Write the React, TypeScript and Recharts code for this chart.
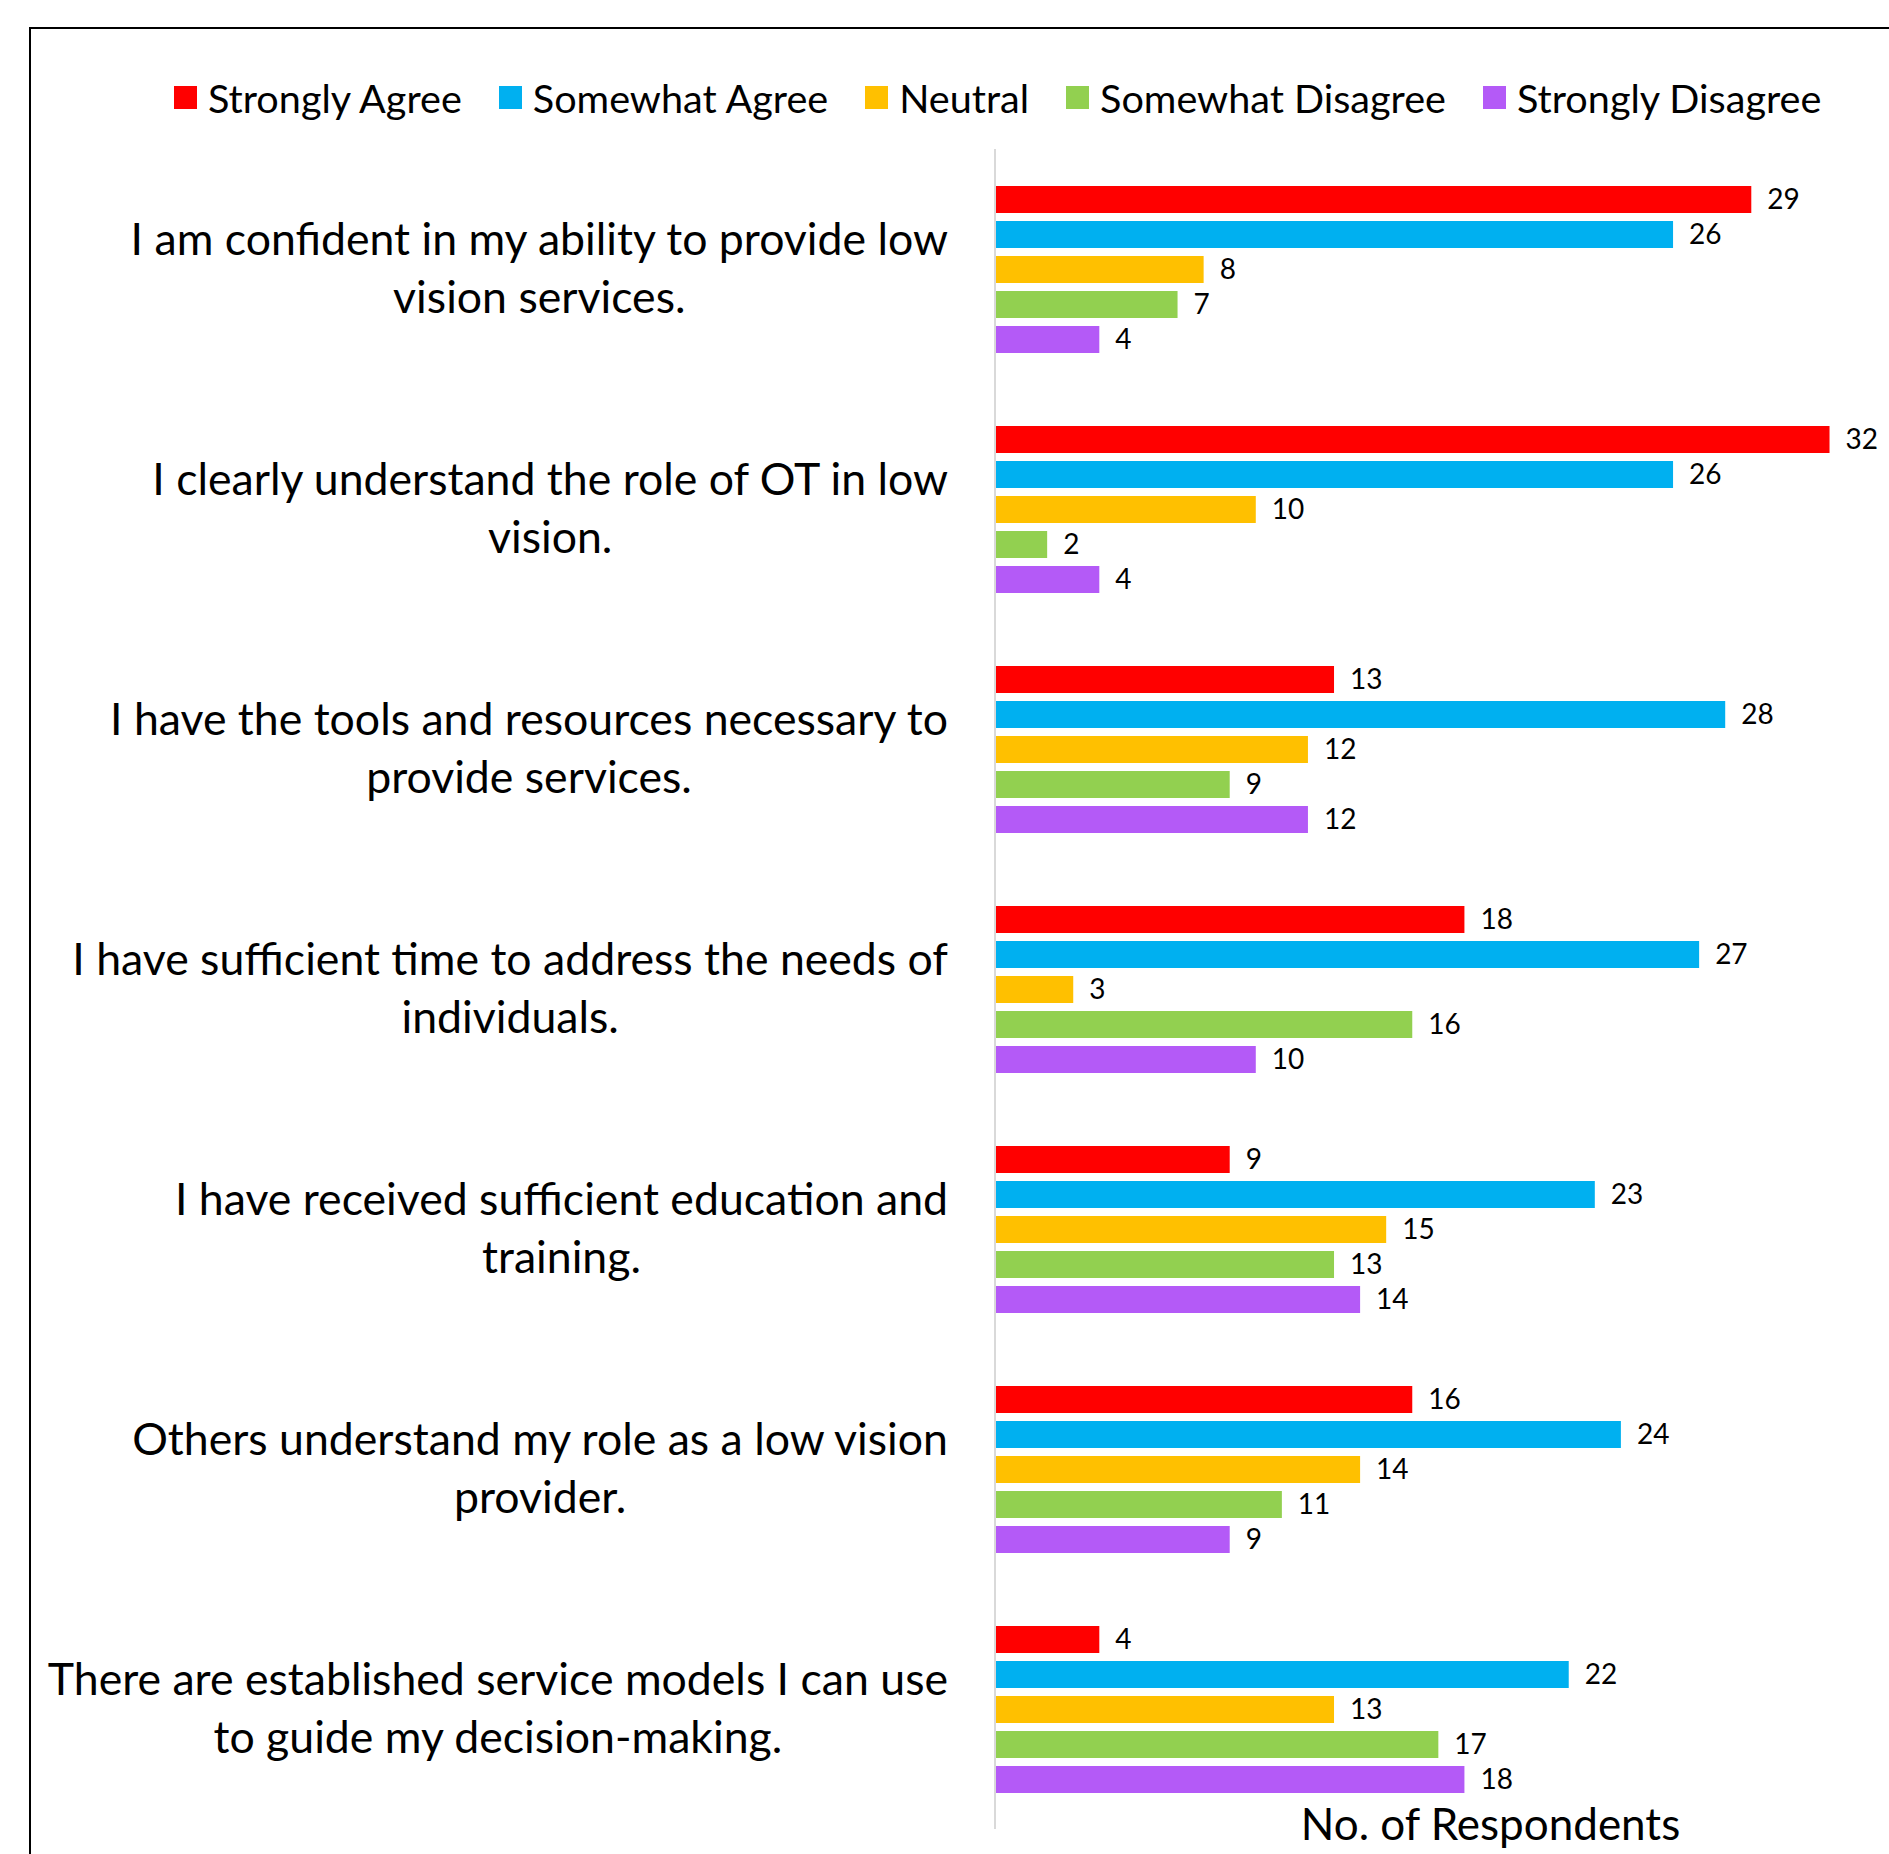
import React from "react";
import { BarChart, Bar, XAxis, YAxis, LabelList } from "recharts";

// survey statements (each \n is where the label wraps)
const statements = [
  "I am confident in my ability to provide low\nvision services.",
  "I clearly understand the role of OT in low\nvision.",
  "I have the tools and resources necessary to\nprovide services.",
  "I have sufficient time to address the needs of\nindividuals.",
  "I have received sufficient education and\ntraining.",
  "Others understand my role as a low vision\nprovider.",
  "There are established service models I can use\nto guide my decision-making.",
];

const stronglyAgree = [29, 32, 13, 18, 9, 16, 4];
const somewhatAgree = [26, 26, 28, 27, 23, 24, 22];
const neutral = [8, 10, 12, 3, 15, 14, 13];
const somewhatDisagree = [7, 2, 9, 16, 13, 11, 17];
const stronglyDisagree = [4, 4, 12, 10, 14, 9, 18];

const seriesNames = [
  "Strongly Agree",
  "Somewhat Agree",
  "Neutral",
  "Somewhat Disagree",
  "Strongly Disagree",
];
const seriesColors = ["#FF0000", "#00B0F0", "#FFC000", "#92D050", "#B45AF7"];
const seriesValues = [stronglyAgree, somewhatAgree, neutral, somewhatDisagree, stronglyDisagree];

const xMax = 38;
const FONT = "Lato, 'Open Sans', sans-serif";

const chartData = statements.map((s, i) => {
  const row: Record<string, string | number> = { statement: s };
  seriesNames.forEach((n, j) => {
    row[n] = seriesValues[j][i];
  });
  return row;
});

interface TickProps {
  x?: number;
  y?: number;
  payload?: { value: string };
}

const StatementTick = ({ x = 0, y = 0, payload }: TickProps) => {
  const lines = (payload?.value ?? "").split("\n");
  return (
    <foreignObject x={x - 47 - 940} y={y - 82} width={940} height={160}>
      <div
        style={{
          width: "100%",
          height: "100%",
          display: "flex",
          justifyContent: "flex-end",
          alignItems: "center",
        }}
      >
        <div
          style={{
            textAlign: "center",
            fontFamily: FONT,
            fontSize: 44.6,
            lineHeight: "58px",
            color: "#000",
            whiteSpace: "nowrap",
          }}
        >
          {lines.map((l, i) => (
            <div key={i}>{l}</div>
          ))}
        </div>
      </div>
    </foreignObject>
  );
};

const LegendRow = () => (
  <div
    style={{
      position: "absolute",
      left: 174,
      top: 73,
      height: 48,
      display: "flex",
      alignItems: "center",
      fontFamily: FONT,
      fontSize: 39.6,
      color: "#000",
      whiteSpace: "nowrap",
    }}
  >
    {seriesNames.map((n, i) => (
      <div key={n} style={{ display: "flex", alignItems: "center", marginRight: 37 }}>
        <span
          style={{ width: 23, height: 23, background: seriesColors[i], marginRight: 11, display: "inline-block" }}
        />
        <span>{n}</span>
      </div>
    ))}
  </div>
);

export default function App() {
  return (
    <div
      style={{
        position: "absolute",
        left: 0,
        top: 0,
        width: 1889,
        height: 1854,
        overflow: "hidden",
        background: "#fff",
      }}
    >
      {/* chart area frame, cropped on the right and bottom like the source */}
      <div
        style={{
          position: "absolute",
          left: 29,
          top: 27,
          width: 2100,
          height: 2000,
          border: "2px solid #000",
        }}
      />
      <LegendRow />
      <div style={{ position: "absolute", left: 0, top: 0 }}>
        <BarChart
          width={2040}
          height={1869}
          data={chartData}
          layout="vertical"
          margin={{ top: 149, right: 54, left: 0, bottom: 0 }}
          barSize={27}
          barGap={8}
        >
          <XAxis
            type="number"
            domain={[0, xMax]}
            height={40}
            tick={false}
            tickLine={false}
            axisLine={false}
            label={(props: any) => {
              const vb = props.viewBox || {};
              return (
                <text
                  x={vb.x + vb.width / 2}
                  y={vb.y + 11}
                  textAnchor="middle"
                  fontFamily={FONT}
                  fontSize={44}
                  fill="#000"
                >
                  No. of Respondents
                </text>
              );
            }}
          />
          <YAxis
            type="category"
            dataKey="statement"
            width={995}
            tickSize={0}
            tickMargin={0}
            tickLine={false}
            axisLine={{ stroke: "#D9D9D9", strokeWidth: 2 }}
            tick={<StatementTick />}
          />
          {seriesNames.map((n, i) => (
            <Bar key={n} dataKey={n} fill={seriesColors[i]} isAnimationActive={false}>
              <LabelList
                dataKey={n}
                position="right"
                offset={16}
                fill="#000"
                fontFamily={FONT}
                fontSize={28}
              />
            </Bar>
          ))}
        </BarChart>
      </div>
    </div>
  );
}
